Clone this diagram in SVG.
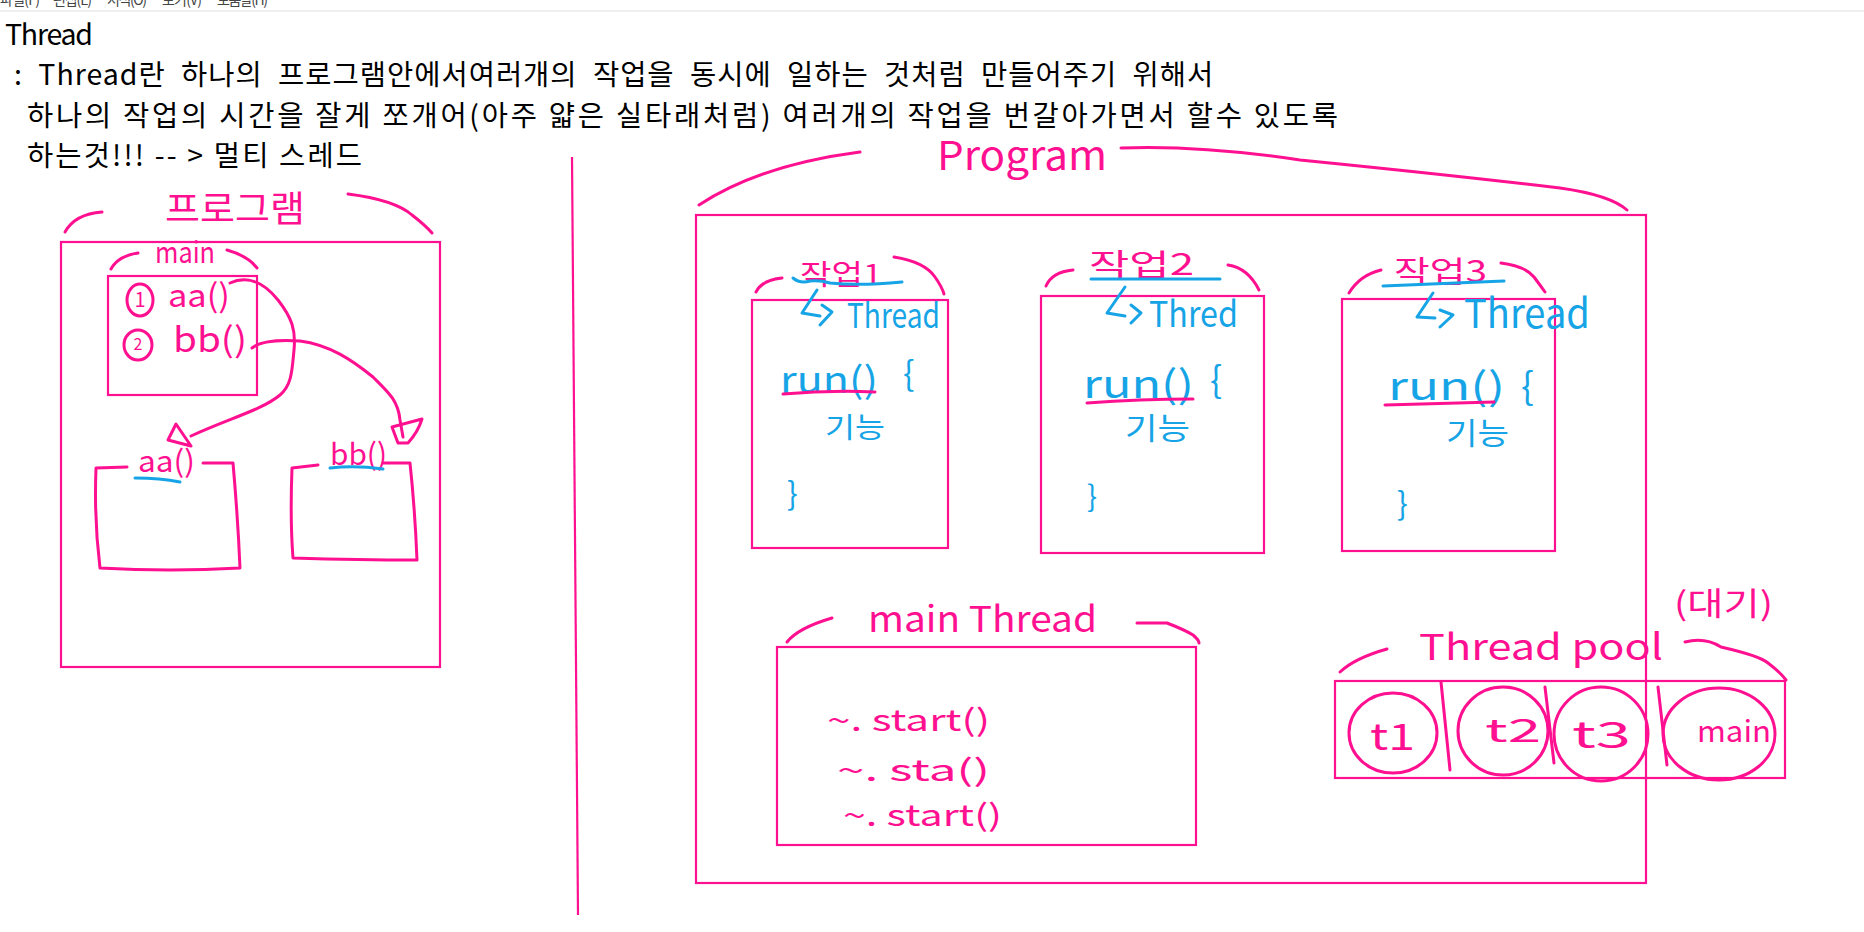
<svg xmlns="http://www.w3.org/2000/svg" width="1864" height="932" viewBox="0 0 1864 932">
<style>
.bg{fill:#ffffff}
.box{fill:none;stroke:#ff1090;stroke-width:2.2}
.hand{fill:none;stroke:#ff1090;stroke-width:3;stroke-linecap:round;stroke-linejoin:round}
.blue{fill:none;stroke:#16a4e6;stroke-width:3;stroke-linecap:round;stroke-linejoin:round}
.menu{font-family:"Noto Sans CJK KR","Noto Sans",sans-serif;font-size:14px;fill:#444}
.t{font-family:"Noto Sans CJK KR","Noto Sans",sans-serif;font-size:28.5px;fill:#000}
.hp{font-family:"Noto Sans CJK KR","Noto Sans",sans-serif;fill:#ff1090}
.hb{font-family:"Noto Sans CJK KR","Noto Sans",sans-serif;fill:#16a4e6}
</style>
<rect class="bg" x="0" y="0" width="1864" height="932"/>
<g id="menubar">
<text class="menu" x="0" y="5" textLength="40">파일(F)</text>
<text class="menu" x="53" y="5" textLength="39">편집(E)</text>
<text class="menu" x="107" y="5" textLength="40">서식(O)</text>
<text class="menu" x="162" y="5" textLength="40">보기(V)</text>
<text class="menu" x="217" y="5" textLength="51">도움말(H)</text>
<rect x="0" y="10" width="1864" height="2" fill="#efefef"/>
</g>
<g id="notes">
<text class="t" x="5" y="45" font-size="29" textLength="88">Thread</text>
<text class="t" x="14" y="85" word-spacing="8" letter-spacing="1">: Thread란 하나의 프로그램안에서여러개의 작업을 동시에 일하는 것처럼 만들어주기 위해서</text>
<text class="t" x="27" y="126" textLength="1311" lengthAdjust="spacing">하나의 작업의 시간을 잘게 쪼개어(아주 얇은 실타래처럼) 여러개의 작업을 번갈아가면서 할수 있도록</text>
<text class="t" x="27" y="166" textLength="335" lengthAdjust="spacing">하는것!!! -- &gt; 멀티 스레드</text>
</g>
<g id="divider">
<line class="box" x1="572" y1="157" x2="578" y2="915"/>
</g>
<g id="left-program">
<rect class="box" x="61" y="242" width="379" height="425"/>
<text class="hp" x="165" y="222" font-size="36" textLength="140" lengthAdjust="spacingAndGlyphs">프로그램</text>
<path class="hand" d="M65,232 Q75,214 102,212"/>
<path class="hand" d="M348,194 Q395,200 412,215 Q425,225 432,233"/>
</g>
<g id="left-main">
<rect class="box" x="108" y="276" width="149" height="119"/>
<text class="hp" x="155" y="263" font-size="30" textLength="60" lengthAdjust="spacingAndGlyphs">main</text>
<path class="hand" d="M111,269 Q118,256 138,253"/>
<path class="hand" d="M227,250 Q248,256 257,268"/>
<ellipse class="hand" cx="140" cy="300" rx="13" ry="16"/>
<text class="hp" x="140" y="307" font-size="20" text-anchor="middle">1</text>
<text class="hp" x="168" y="307" font-size="32" textLength="62" lengthAdjust="spacingAndGlyphs">aa()</text>
<ellipse class="hand" cx="138" cy="345" rx="14" ry="15"/>
<text class="hp" x="138" y="350" font-size="16" text-anchor="middle">2</text>
<text class="hp" x="173" y="352" font-size="34" textLength="74" lengthAdjust="spacingAndGlyphs">bb()</text>
</g>
<g id="left-aa">
<path class="hand" d="M127,467 L96,468 Q94,520 100,568 Q170,572 240,568 Q238,520 233,463 L203,463"/>
<text class="hp" x="138" y="472" font-size="30" textLength="57" lengthAdjust="spacingAndGlyphs">aa()</text>
<path class="blue" d="M135,478 Q160,478 180,482"/>
</g>
<g id="left-bb">
<path class="hand" d="M318,465 L292,468 Q290,520 293,558 Q360,560 417,560 Q415,510 410,463 L383,463"/>
<text class="hp" x="330" y="465" font-size="30" textLength="57" lengthAdjust="spacingAndGlyphs">bb()</text>
<path class="blue" d="M330,468 Q355,465 383,469"/>
</g>
<g id="connectors">
<path class="hand" d="M230,283 C245,276 262,280 278,300 C292,318 296,330 294,350 C292,370 292,385 280,395 C262,410 230,418 191,436"/>
<path class="hand" d="M176,424 L168,440 L191,446 Z"/>
<path class="hand" d="M252,348 C262,340 285,340 300,341 C330,345 352,360 373,377 C388,392 398,400 400,420 L403,437"/>
<path class="hand" d="M392,427 L422,419 Q418,432 408,443 L398,443 Z"/>
</g>
<g id="program">
<rect class="box" x="696" y="215" width="950" height="668"/>
<text class="hp" x="937" y="170" font-size="40" textLength="170" lengthAdjust="spacingAndGlyphs">Program</text>
<path class="hand" d="M699,205 Q760,165 860,152"/>
<path class="hand" d="M1121,148 Q1200,145 1300,160 Q1450,175 1560,188 Q1610,195 1627,210"/>
</g>
<g id="task1">
<rect class="box" x="752" y="300" width="196" height="248"/>
<text class="hp" x="800" y="285" font-size="28" textLength="82" lengthAdjust="spacingAndGlyphs">작업1</text>
<path class="blue" d="M793,278 Q800,284 810,281 Q820,280 830,283 Q860,286 902,282"/>
<path class="hand" d="M756,292 Q762,280 782,278"/>
<path class="hand" d="M894,257 Q925,262 935,277 Q942,287 944,294"/>
<path class="blue" d="M817,290 L802,313 L820,316 M822,305 L832,312 L820,325"/>
<text class="hb" x="847" y="328" font-size="34" textLength="93" lengthAdjust="spacingAndGlyphs">Thread</text>
<text class="hb" x="780" y="393" font-size="36" textLength="98" lengthAdjust="spacingAndGlyphs">run()</text>
<path class="hand" d="M783,394 Q830,390 875,392"/>
<text class="hb" x="903" y="386" font-size="34">{</text>
<text class="hb" x="825" y="438" font-size="28" textLength="60" lengthAdjust="spacingAndGlyphs">기능</text>
<text class="hb" x="787" y="505" font-size="32">}</text>
</g>
<g id="task2">
<rect class="box" x="1041" y="296" width="223" height="257"/>
<text class="hp" x="1089" y="275" font-size="30" textLength="105" lengthAdjust="spacingAndGlyphs">작업2</text>
<path class="blue" d="M1091,279 L1220,279"/>
<path class="hand" d="M1046,286 Q1052,272 1073,270"/>
<path class="hand" d="M1228,265 Q1248,268 1259,290"/>
<path class="blue" d="M1125,287 L1107,313 L1125,316 M1131,305 L1141,313 L1131,323"/>
<text class="hb" x="1149" y="327" font-size="36" textLength="89" lengthAdjust="spacingAndGlyphs">Thred</text>
<text class="hb" x="1083" y="398" font-size="38" textLength="111" lengthAdjust="spacingAndGlyphs">run()</text>
<path class="hand" d="M1087,403 Q1140,399 1193,399"/>
<text class="hb" x="1210" y="393" font-size="36">{</text>
<text class="hb" x="1125" y="439" font-size="30" textLength="65" lengthAdjust="spacingAndGlyphs">기능</text>
<text class="hb" x="1087" y="507" font-size="30">}</text>
</g>
<g id="task3">
<rect class="box" x="1342" y="299" width="213" height="252"/>
<text class="hp" x="1394" y="282" font-size="30" textLength="93" lengthAdjust="spacingAndGlyphs">작업3</text>
<path class="blue" d="M1383,286 L1504,281"/>
<path class="hand" d="M1349,293 Q1360,275 1381,270"/>
<path class="hand" d="M1501,263 Q1525,266 1534,277 Q1540,285 1545,292"/>
<path class="blue" d="M1433,293 L1417,317 L1435,318 M1440,310 L1453,315 L1440,327"/>
<text class="hb" x="1464" y="328" font-size="40" textLength="126" lengthAdjust="spacingAndGlyphs">Thread</text>
<text class="hb" x="1388" y="400" font-size="38" textLength="117" lengthAdjust="spacingAndGlyphs">run()</text>
<path class="hand" d="M1385,405 L1494,402"/>
<text class="hb" x="1521" y="400" font-size="38">{</text>
<text class="hb" x="1446" y="444" font-size="30" textLength="63" lengthAdjust="spacingAndGlyphs">기능</text>
<text class="hb" x="1397" y="515" font-size="32">}</text>
</g>
<g id="main-thread">
<rect class="box" x="777" y="647" width="419" height="198"/>
<text class="hp" x="868" y="632" font-size="36" textLength="229" lengthAdjust="spacingAndGlyphs">main Thread</text>
<path class="hand" d="M787,642 Q798,628 832,618"/>
<path class="hand" d="M1137,623 L1167,623 Q1185,630 1193,635 Q1199,640 1199,643"/>
<text class="hp" x="827" y="731" font-size="30" textLength="163" lengthAdjust="spacingAndGlyphs">~. start()</text>
<text class="hp" x="837" y="781" font-size="30" textLength="153" lengthAdjust="spacingAndGlyphs">~. sta()</text>
<text class="hp" x="843" y="826" font-size="30" textLength="159" lengthAdjust="spacingAndGlyphs">~. start()</text>
</g>
<g id="thread-pool">
<rect class="box" x="1335" y="681" width="450" height="97"/>
<text class="hp" x="1419" y="660" font-size="36" textLength="244" lengthAdjust="spacingAndGlyphs">Thread pool</text>
<text class="hp" x="1674" y="615" font-size="32" textLength="99" lengthAdjust="spacingAndGlyphs">(대기)</text>
<path class="hand" d="M1340,672 Q1355,658 1387,649"/>
<path class="hand" d="M1685,642 Q1705,637 1721,647 Q1760,656 1768,663 Q1780,672 1786,680"/>
<path class="hand" d="M1441,682 L1450,770 M1545,687 L1554,763 M1658,687 L1667,765"/>
<ellipse class="hand" cx="1393" cy="733" rx="44" ry="40"/>
<ellipse class="hand" cx="1503" cy="731" rx="45" ry="44"/>
<ellipse class="hand" cx="1601" cy="734" rx="47" ry="47"/>
<ellipse class="hand" cx="1719" cy="734" rx="56" ry="46"/>
<text class="hp" x="1370" y="750" font-size="36" textLength="45" lengthAdjust="spacingAndGlyphs">t1</text>
<text class="hp" x="1485" y="742" font-size="32" textLength="56" lengthAdjust="spacingAndGlyphs">t2</text>
<text class="hp" x="1572" y="748" font-size="36" textLength="59" lengthAdjust="spacingAndGlyphs">t3</text>
<text class="hp" x="1697" y="742" font-size="30" textLength="74" lengthAdjust="spacingAndGlyphs">main</text>
</g>
</svg>
